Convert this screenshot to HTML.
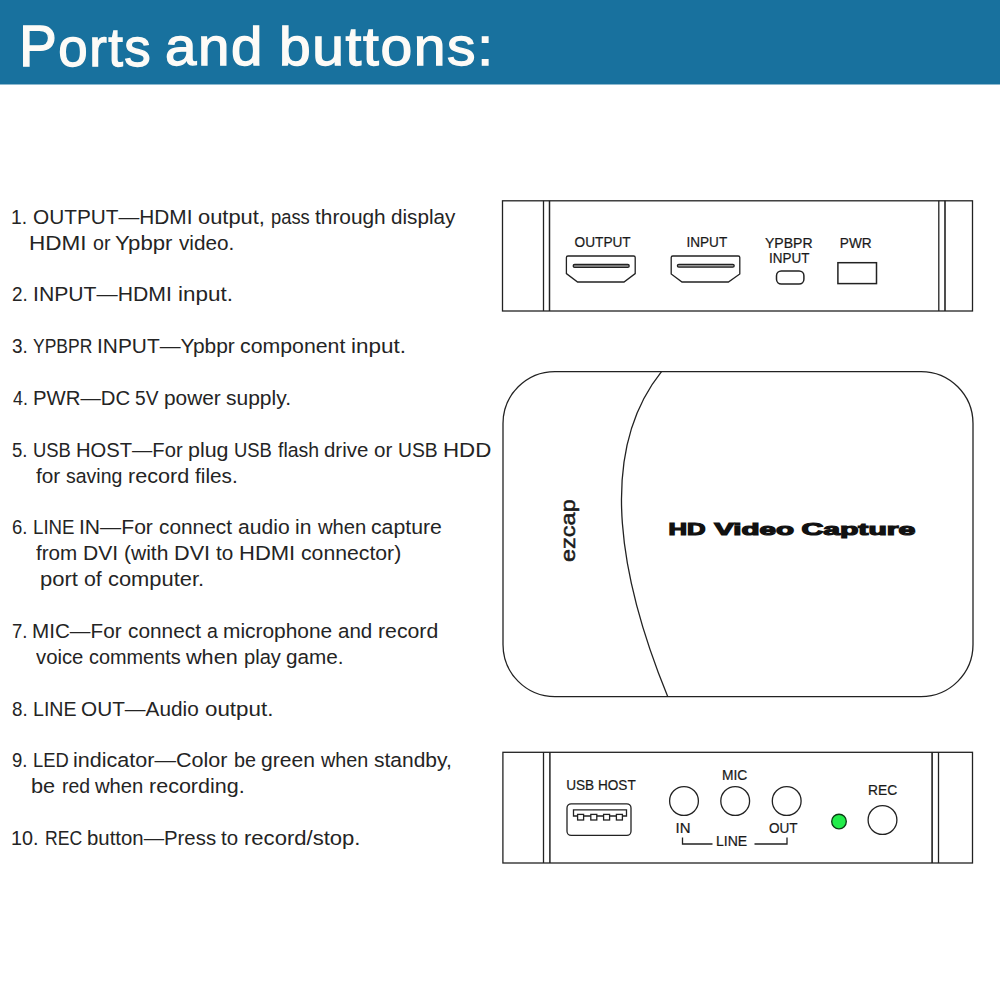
<!DOCTYPE html>
<html><head><meta charset="utf-8">
<style>
html,body{margin:0;padding:0;background:#fff;}
body{width:1000px;height:1000px;position:relative;overflow:hidden;font-family:"Liberation Sans",sans-serif;}
#hdr{position:absolute;left:0;top:0;width:1000px;height:84px;background:#18719e;border-bottom:1px solid #8db9cf;}
.ti{position:absolute;top:3.8px;color:#fdfbf7;-webkit-text-stroke:1.3px #fdfbf7;font-size:54px;line-height:84px;letter-spacing:1.5px;white-space:nowrap;transform-origin:0 0;}
.t{position:absolute;white-space:nowrap;font-size:20.5px;line-height:26px;color:#242424;transform-origin:0 0;}
svg{position:absolute;left:0;top:0;}
</style></head><body>
<div id="hdr"></div>
<div class="ti" style="left:18.89px;transform:scaleX(0.9783)"><span style="font-size:58px">P</span>orts</div>
<div class="ti" style="left:164.91px;transform:scaleX(1.0455)">and</div>
<div class="ti" style="left:278.83px;transform:scaleX(1.0561)">buttons:</div>
<div class="t" style="left:11.32px;top:203.80px;transform:scaleX(0.9421)">1.</div>
<div class="t" style="left:32.74px;top:203.80px;transform:scaleX(1.0147)">OUTPUT—HDMI</div>
<div class="t" style="left:197.93px;top:203.80px;transform:scaleX(1.0672)">output,</div>
<div class="t" style="left:271.10px;top:203.80px;transform:scaleX(0.8955)">pass</div>
<div class="t" style="left:315.00px;top:203.80px;transform:scaleX(1.0166)">through</div>
<div class="t" style="left:391.49px;top:203.80px;transform:scaleX(1.0079)">display</div>
<div class="t" style="left:28.80px;top:229.68px;transform:scaleX(1.0991)">HDMI</div>
<div class="t" style="left:92.80px;top:229.68px;transform:scaleX(0.9549)">or</div>
<div class="t" style="left:115.17px;top:229.68px;transform:scaleX(1.0796)">Ypbpr</div>
<div class="t" style="left:178.75px;top:229.68px;transform:scaleX(1.0104)">video.</div>
<div class="t" style="left:12.08px;top:280.50px;transform:scaleX(0.9239)">2.</div>
<div class="t" style="left:32.93px;top:280.50px;transform:scaleX(1.0335)">INPUT—HDMI</div>
<div class="t" style="left:177.66px;top:280.50px;transform:scaleX(1.0947)">input.</div>
<div class="t" style="left:12.08px;top:333.20px;transform:scaleX(0.9248)">3.</div>
<div class="t" style="left:32.90px;top:333.20px;transform:scaleX(0.8530)">YPBPR</div>
<div class="t" style="left:96.71px;top:333.20px;transform:scaleX(1.0187)">INPUT—Ypbpr</div>
<div class="t" style="left:240.21px;top:333.20px;transform:scaleX(1.0384)">component</div>
<div class="t" style="left:351.40px;top:333.20px;transform:scaleX(1.0957)">input.</div>
<div class="t" style="left:13.00px;top:384.96px;transform:scaleX(0.8665)">4.</div>
<div class="t" style="left:32.52px;top:384.96px;transform:scaleX(0.9913)">PWR—DC</div>
<div class="t" style="left:135.32px;top:384.96px;transform:scaleX(0.9340)">5V</div>
<div class="t" style="left:163.98px;top:384.96px;transform:scaleX(1.0155)">power</div>
<div class="t" style="left:226.48px;top:384.96px;transform:scaleX(1.0246)">supply.</div>
<div class="t" style="left:12.10px;top:436.72px;transform:scaleX(0.9029)">5.</div>
<div class="t" style="left:32.70px;top:436.72px;transform:scaleX(0.8985)">USB</div>
<div class="t" style="left:75.53px;top:436.72px;transform:scaleX(0.9853)">HOST—For</div>
<div class="t" style="left:187.71px;top:436.72px;transform:scaleX(1.0447)">plug</div>
<div class="t" style="left:234.45px;top:436.72px;transform:scaleX(0.8995)">USB</div>
<div class="t" style="left:277.50px;top:436.72px;transform:scaleX(0.9497)">flash</div>
<div class="t" style="left:324.00px;top:436.72px;transform:scaleX(0.9972)">drive</div>
<div class="t" style="left:374.00px;top:436.72px;transform:scaleX(1.0025)">or</div>
<div class="t" style="left:398.12px;top:436.72px;transform:scaleX(0.9403)">USB</div>
<div class="t" style="left:442.82px;top:436.72px;transform:scaleX(1.0878)">HDD</div>
<div class="t" style="left:36.00px;top:462.60px;transform:scaleX(1.0117)">for</div>
<div class="t" style="left:66.05px;top:462.60px;transform:scaleX(0.9505)">saving</div>
<div class="t" style="left:127.70px;top:462.60px;transform:scaleX(1.0547)">record</div>
<div class="t" style="left:195.00px;top:462.60px;transform:scaleX(1.0125)">files.</div>
<div class="t" style="left:12.10px;top:514.36px;transform:scaleX(0.9029)">6.</div>
<div class="t" style="left:32.68px;top:514.36px;transform:scaleX(0.9116)">LINE</div>
<div class="t" style="left:79.19px;top:514.36px;transform:scaleX(1.0300)">IN—For</div>
<div class="t" style="left:158.98px;top:514.36px;transform:scaleX(1.0159)">connect</div>
<div class="t" style="left:237.72px;top:514.36px;transform:scaleX(1.0291)">audio</div>
<div class="t" style="left:295.22px;top:514.36px;transform:scaleX(1.0280)">in</div>
<div class="t" style="left:317.50px;top:514.36px;transform:scaleX(0.9871)">when</div>
<div class="t" style="left:371.46px;top:514.36px;transform:scaleX(1.0358)">capture</div>
<div class="t" style="left:36.00px;top:540.24px;transform:scaleX(1.0061)">from</div>
<div class="t" style="left:82.94px;top:540.24px;transform:scaleX(1.0285)">DVI</div>
<div class="t" style="left:123.97px;top:540.24px;transform:scaleX(1.0250)">(with</div>
<div class="t" style="left:174.14px;top:540.24px;transform:scaleX(1.0557)">DVI</div>
<div class="t" style="left:216.25px;top:540.24px;transform:scaleX(1.0076)">to</div>
<div class="t" style="left:239.10px;top:540.24px;transform:scaleX(1.0728)">HDMI</div>
<div class="t" style="left:301.47px;top:540.24px;transform:scaleX(1.0347)">connector)</div>
<div class="t" style="left:39.93px;top:566.12px;transform:scaleX(1.0724)">port</div>
<div class="t" style="left:83.96px;top:566.12px;transform:scaleX(1.0411)">of</div>
<div class="t" style="left:107.68px;top:566.12px;transform:scaleX(1.0672)">computer.</div>
<div class="t" style="left:12.10px;top:617.88px;transform:scaleX(0.9029)">7.</div>
<div class="t" style="left:32.48px;top:617.88px;transform:scaleX(1.0077)">MIC—For</div>
<div class="t" style="left:127.73px;top:617.88px;transform:scaleX(1.0159)">connect</div>
<div class="t" style="left:206.55px;top:617.88px;transform:scaleX(0.9498)">a</div>
<div class="t" style="left:222.73px;top:617.88px;transform:scaleX(1.0192)">microphone</div>
<div class="t" style="left:337.75px;top:617.88px;transform:scaleX(1.0020)">and</div>
<div class="t" style="left:377.71px;top:617.88px;transform:scaleX(1.0366)">record</div>
<div class="t" style="left:36.00px;top:643.76px;transform:scaleX(0.9897)">voice</div>
<div class="t" style="left:89.03px;top:643.76px;transform:scaleX(0.9696)">comments</div>
<div class="t" style="left:186.25px;top:643.76px;transform:scaleX(1.0544)">when</div>
<div class="t" style="left:244.02px;top:643.76px;transform:scaleX(0.9812)">play</div>
<div class="t" style="left:286.49px;top:643.76px;transform:scaleX(1.0093)">game.</div>
<div class="t" style="left:11.84px;top:695.52px;transform:scaleX(0.9134)">8.</div>
<div class="t" style="left:32.59px;top:695.52px;transform:scaleX(0.9546)">LINE</div>
<div class="t" style="left:81.49px;top:695.52px;transform:scaleX(1.0129)">OUT—Audio</div>
<div class="t" style="left:204.91px;top:695.52px;transform:scaleX(1.0900)">output.</div>
<div class="t" style="left:12.10px;top:747.28px;transform:scaleX(0.9029)">9.</div>
<div class="t" style="left:32.71px;top:747.28px;transform:scaleX(0.8970)">LED</div>
<div class="t" style="left:73.45px;top:747.28px;transform:scaleX(1.0512)">indicator—Color</div>
<div class="t" style="left:234.04px;top:747.28px;transform:scaleX(0.9644)">be</div>
<div class="t" style="left:261.47px;top:747.28px;transform:scaleX(1.0282)">green</div>
<div class="t" style="left:321.25px;top:747.28px;transform:scaleX(0.9647)">when</div>
<div class="t" style="left:373.98px;top:747.28px;transform:scaleX(1.0233)">standby,</div>
<div class="t" style="left:31.24px;top:773.16px;transform:scaleX(1.0591)">be</div>
<div class="t" style="left:61.55px;top:773.16px;transform:scaleX(0.9463)">red</div>
<div class="t" style="left:95.00px;top:773.16px;transform:scaleX(0.9871)">when</div>
<div class="t" style="left:148.95px;top:773.16px;transform:scaleX(1.0500)">recording.</div>
<div class="t" style="left:11.37px;top:824.92px;transform:scaleX(0.9634)">10.</div>
<div class="t" style="left:44.53px;top:824.92px;transform:scaleX(0.8594)">REC</div>
<div class="t" style="left:86.51px;top:824.92px;transform:scaleX(0.9936)">button—Press</div>
<div class="t" style="left:221.25px;top:824.92px;transform:scaleX(0.9974)">to</div>
<div class="t" style="left:243.92px;top:824.92px;transform:scaleX(1.0762)">record/stop.</div>
<svg width="1000" height="1000" viewBox="0 0 1000 1000">
<g fill="none" stroke="#222" stroke-width="1.3">
<rect x="502.5" y="200.8" width="470" height="110.2"/>
<line x1="543.5" y1="200.8" x2="543.5" y2="311"/>
<line x1="549.5" y1="200.8" x2="549.5" y2="311" stroke-width="1.5"/>
<line x1="938.8" y1="200.8" x2="938.8" y2="311"/>
<line x1="945" y1="200.8" x2="945" y2="311" stroke-width="1.6"/>
<path d="M566.4,257.5 Q566.4,256 568,256 L633.6,256 Q635.2,256 635.2,257.5 L635.2,273.6 L624,282 L577.6,282 L566.4,273.6 Z"/>
<path d="M671.2,257.5 Q671.2,256 672.8,256 L738.2,256 Q739.8,256 739.8,257.5 L739.8,274 L728.4,282 L682,282 L671.2,274 Z"/>
<rect x="573.2" y="264.5" width="56" height="2.8" rx="1.4" fill="#999"/>
<rect x="677.4" y="264.4" width="56.8" height="2.8" rx="1.4" fill="#999"/>
<rect x="776.5" y="270.95" width="27.4" height="13.1" rx="4.8" stroke-width="1.5"/>
<rect x="837.9" y="262.7" width="38.6" height="20.9" stroke-width="1.5"/>
<rect x="503" y="371.6" width="470" height="325" rx="52"/>
<path d="M661.5,371.6 C594.78,454.88 621.81,584.37 667.7,696.6"/>
<rect x="502.9" y="752.3" width="469.6" height="110.7"/>
<line x1="543.5" y1="752.3" x2="543.5" y2="863"/>
<line x1="549.9" y1="752.3" x2="549.9" y2="863" stroke-width="1.5"/>
<line x1="932.1" y1="752.3" x2="932.1" y2="863" stroke-width="1.6"/>
<line x1="938.5" y1="752.3" x2="938.5" y2="863"/>
<rect x="567" y="803.8" width="64" height="31.6" rx="4.2"/>
<path d="M573.5,816 L573.5,809.8 L626.5,809.8 L626.5,816 Z"/>
<rect x="577.6" y="814.4" width="6" height="5.6" fill="#fff"/>
<rect x="590.8" y="814.4" width="6" height="5.6" fill="#fff"/>
<rect x="603.6" y="814.4" width="6" height="5.6" fill="#fff"/>
<rect x="616.4" y="814.4" width="6" height="5.6" fill="#fff"/>
<circle cx="684" cy="801" r="14.4"/>
<circle cx="735.2" cy="801" r="14.4"/>
<circle cx="786.7" cy="801" r="14.4"/>
<circle cx="882.5" cy="820" r="14.4"/>
<path d="M682.5,837.5 L682.5,844 L712.5,844"/>
<path d="M754.5,844 L787,844 L787,837.5"/>
<circle cx="839" cy="821.5" r="7.3" fill="#22ec4a" stroke="#0b3d14" stroke-width="1.35"/>
</g>

<g font-family="Liberation Sans" fill="#1a1a1a" font-size="13.8" stroke="#1a1a1a" stroke-width="0.2">
<text x="574.60" y="247.20" textLength="56.10" lengthAdjust="spacingAndGlyphs">OUTPUT</text>
<text x="686.50" y="247.10" textLength="40.68" lengthAdjust="spacingAndGlyphs">INPUT</text>
<text x="765.00" y="247.60" textLength="47.62" lengthAdjust="spacingAndGlyphs">YPBPR</text>
<text x="769.00" y="262.50" textLength="40.37" lengthAdjust="spacingAndGlyphs">INPUT</text>
<text x="839.80" y="247.60" textLength="31.88" lengthAdjust="spacingAndGlyphs">PWR</text>
<text x="566.20" y="790.40" textLength="69.51" lengthAdjust="spacingAndGlyphs">USB HOST</text>
<text x="722.00" y="779.50" textLength="25.30" lengthAdjust="spacingAndGlyphs">MIC</text>
<text x="675.50" y="832.50" textLength="14.96" lengthAdjust="spacingAndGlyphs">IN</text>
<text x="716.00" y="846.00" textLength="31.23" lengthAdjust="spacingAndGlyphs">LINE</text>
<text x="769.00" y="832.50" textLength="28.61" lengthAdjust="spacingAndGlyphs">OUT</text>
<text x="868.00" y="795.00" textLength="29.14" lengthAdjust="spacingAndGlyphs">REC</text>
</g>
<g font-family="Liberation Sans" font-weight="bold" font-size="17.4" fill="#111" stroke="#111" stroke-width="1.2">
<text x="668.40" y="535" textLength="37.07" lengthAdjust="spacingAndGlyphs">HD</text>
<text x="714.20" y="535" textLength="79.88" lengthAdjust="spacingAndGlyphs">Video</text>
<text x="801.40" y="535" textLength="113.93" lengthAdjust="spacingAndGlyphs">Capture</text>
</g>
<text transform="translate(574.5,562.00) rotate(-90)" font-family="Liberation Sans" font-size="20.8" fill="#1a1a1a" stroke="#1a1a1a" stroke-width="0.5" textLength="62.70" lengthAdjust="spacingAndGlyphs">ezcap</text>
</svg>
</body></html>
